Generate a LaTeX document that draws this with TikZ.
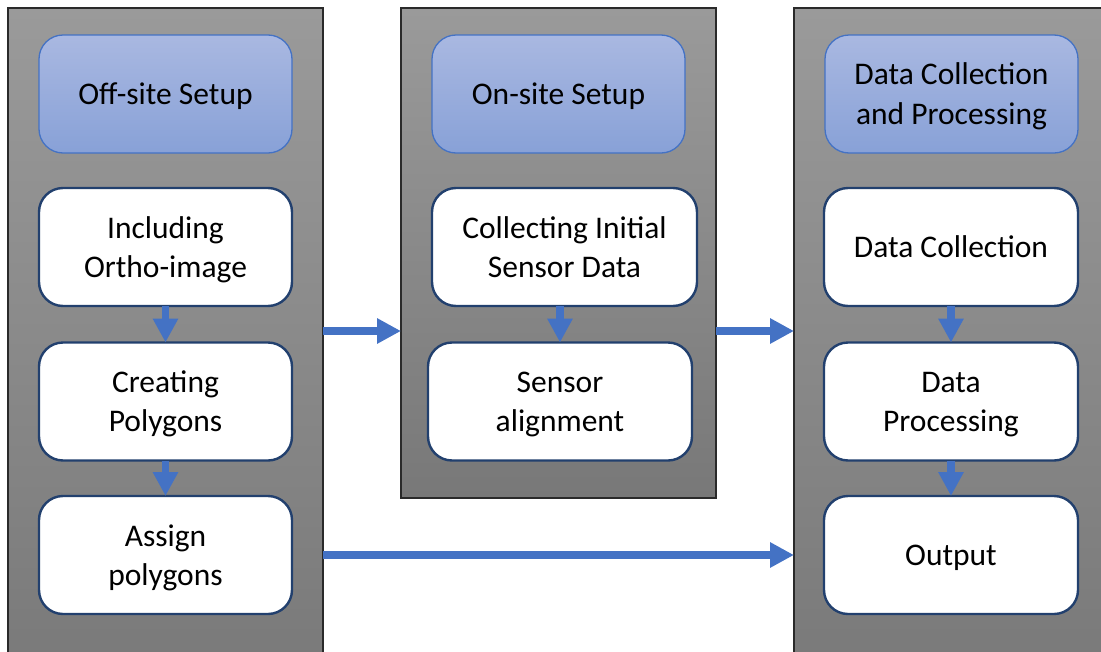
\documentclass[tikz,border=0pt]{standalone}
\usepackage{fontspec}
\setmainfont{Carlito}
\usetikzlibrary{arrows.meta}
\definecolor{flowblue}{HTML}{4472C4}
\definecolor{boxnavy}{HTML}{22406E}
\definecolor{headtop}{HTML}{A9B8E1}
\definecolor{headbot}{HTML}{88A1D7}
\definecolor{paneltop}{HTML}{9A9A9A}
\definecolor{panelbot}{HTML}{787878}
\definecolor{panelline}{HTML}{2A2A2A}
% fixed line box so every label sits at the same place in its box
\newcommand\topstrut{\rule{0pt}{30pt}}
\newcommand\botstrut{\rule[-8.5pt]{0pt}{8.5pt}}
\tikzset{
  panel/.style={rectangle, draw=panelline, line width=1.4pt,
    top color=paneltop, bottom color=panelbot,
    inner sep=0pt, outer sep=0pt, minimum width=315pt},
  headbox/.style={rectangle, rounded corners=24pt, draw=flowblue, line width=1.3pt,
    top color=headtop, bottom color=headbot,
    minimum width=253pt, minimum height=118pt, inner sep=0pt, outer sep=0pt,
    align=center, font=\fontsize{31.5}{40}\selectfont},
  stepbox/.style={rectangle, rounded corners=24pt, draw=boxnavy, line width=2.4pt,
    fill=white, minimum width=253pt, minimum height=118pt, inner sep=0pt, outer sep=0pt,
    align=center, font=\fontsize{31.5}{39}\selectfont},
  flow/.style={draw=flowblue, line width=7.5pt,
    -{Triangle[width=24pt,length=24pt]}},
}
\begin{document}
\begin{tikzpicture}[x=1pt,y=-1pt]
\useasboundingbox (0,0) rectangle (1101,651);
\begin{scope}
\clip (0,0) rectangle (1101,651);

% three stage panels
\node[panel, minimum height=692pt] (lp) at (165.5,354) {};
\node[panel, minimum height=490pt] (mp) at (558.5,253) {};
\node[panel, minimum width=336pt, minimum height=692pt] (rp) at (962,354) {};

% stage headers
\node[headbox] (lh) at (165.5,94) {\topstrut Off-site Setup\botstrut};
\node[headbox] (mh) at (558.5,94) {\topstrut On-site Setup\botstrut};
\node[headbox] (rh) at (951.5,94) {\topstrut Data Collection\\and Processing\botstrut};

% off-site steps
\node[stepbox] (l1) at (165.5,247) {\topstrut Including\\Ortho-image\botstrut};
\node[stepbox] (l2) at (165.5,401.5) {\topstrut Creating\\Polygons\botstrut};
\node[stepbox] (l3) at (165.5,555) {\topstrut Assign\\polygons\botstrut};

% on-site steps
\node[stepbox, minimum width=265pt] (m1) at (564.5,247) {\topstrut Collecting Initial\\Sensor Data\botstrut};
\node[stepbox, minimum width=264pt] (m2) at (560,401.5) {\topstrut Sensor\\alignment\botstrut};

% data collection and processing steps
\node[stepbox, minimum width=254pt] (r1) at (951,247) {\topstrut Data Collection\botstrut};
\node[stepbox, minimum width=254pt] (r2) at (951,401.5) {\topstrut Data\\Processing\botstrut};
\node[stepbox, minimum width=254pt] (r3) at (951,555) {\topstrut Output\botstrut};

% arrows within panels
\draw[flow] (l1.south) -- (l2.north);
\draw[flow] (l2.south) -- (l3.north);
\draw[flow] (m1.south -| m2.north) -- (m2.north);
\draw[flow] (r1.south) -- (r2.north);
\draw[flow] (r2.south) -- (r3.north);

% arrows between panels
\coordinate (link) at (0,331);
\draw[flow] (lp.east |- link) -- (mp.west |- link);
\draw[flow] (mp.east |- link) -- (rp.west |- link);
\draw[flow] (lp.east |- l3) -- (rp.west |- l3);
\end{scope}
\end{tikzpicture}
\end{document}
